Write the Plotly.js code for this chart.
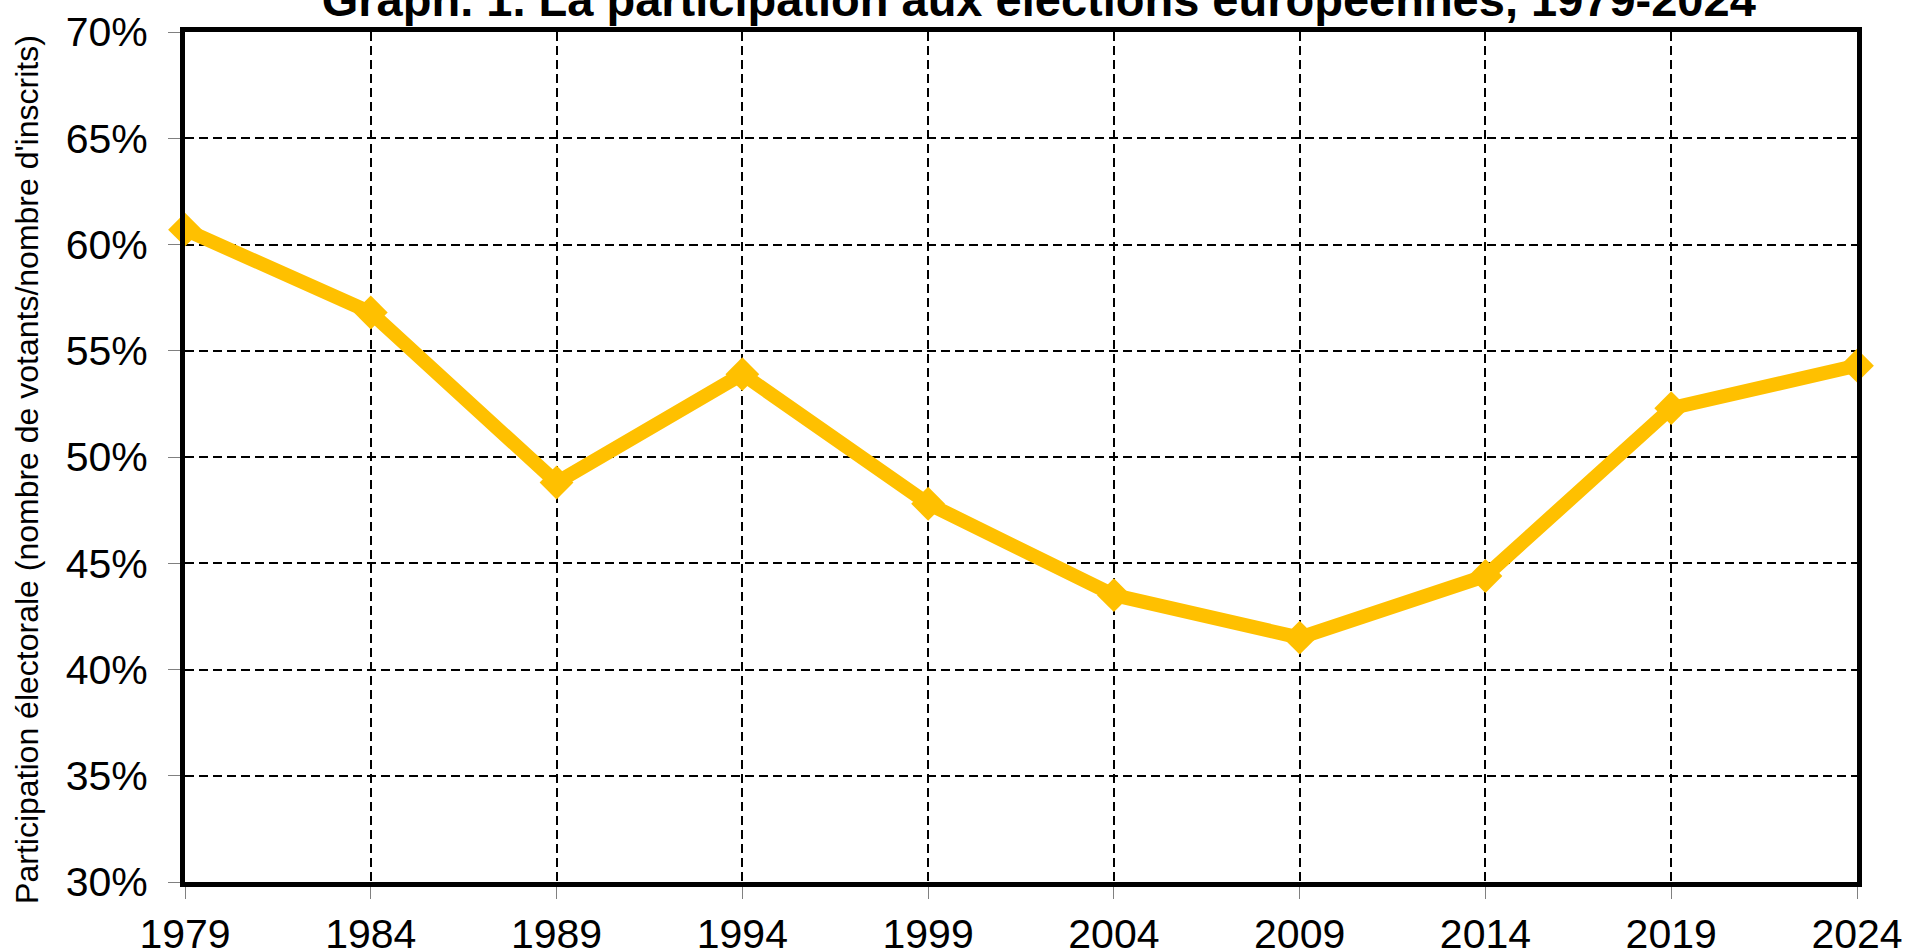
<!DOCTYPE html>
<html>
<head>
<meta charset="utf-8">
<script src="https://cdn.plot.ly/plotly-3.0.1.min.js"></script>
<style>html,body{margin:0;padding:0;background:#fff;}#chart{width:1906px;height:952px;}</style>
</head>
<body>
<div id="chart"></div>
<script>
const years = [1979, 1984, 1989, 1994, 1999, 2004, 2009, 2014, 2019, 2024];
const turnout = [60.7, 56.8, 48.8, 53.9, 47.8, 43.5, 41.5, 44.4, 52.3, 54.3];
const yTickVals = [30, 35, 40, 45, 50, 55, 60, 65, 70];
const yTickText = ['30%', '35%', '40%', '45%', '50%', '55%', '60%', '65%', '70%'];
const chartTitle = 'Graph. 1. La participation aux élections européennes, 1979-2024';
const yTitle = "Participation électorale (nombre de votants/nombre d'inscrits)";

const font = 'Arial, "Liberation Sans", sans-serif';

const trace = {
  x: years,
  y: turnout,
  type: 'scatter',
  mode: 'lines+markers',
  line: {color: '#FFC000', width: 14},
  marker: {symbol: 'diamond', size: 26, color: '#FFC000'},
  cliponaxis: false,
  hoverinfo: 'x+y'
};

const layout = {
  width: 1906,
  height: 952,
  margin: {l: 185, r: 49, t: 32, b: 70},
  paper_bgcolor: '#ffffff',
  plot_bgcolor: '#ffffff',
  showlegend: false,
  font: {family: font, color: '#000'},
  title: {
    text: '<b>' + chartTitle + '</b>',
    font: {family: font, size: 47, color: '#000'},
    x: 0.545, xanchor: 'center', xref: 'container',
    y: 0.983, yanchor: 'bottom', yref: 'container'
  },
  xaxis: {
    range: [1979, 2024],
    tickvals: years,
    ticktext: years.map(String),
    tickfont: {size: 41, family: font, color: '#000'},
    ticks: 'outside', ticklen: 12, tickwidth: 1, tickcolor: '#808080',
    showgrid: true, gridcolor: '#000', gridwidth: 2, griddash: '9px,5px',
    showline: true, linecolor: '#000', linewidth: 5, mirror: true,
    zeroline: false, fixedrange: true
  },
  yaxis: {
    range: [30, 70],
    tickvals: yTickVals,
    ticktext: yTickText,
    tickfont: {size: 41, family: font, color: '#000'},
    ticks: 'outside', ticklen: 12, tickwidth: 1, tickcolor: '#808080',
    ticklabelstandoff: 12,
    showgrid: true, gridcolor: '#000', gridwidth: 2, griddash: '9px,5px',
    showline: true, linecolor: '#000', linewidth: 5, mirror: true,
    zeroline: false, fixedrange: true
  },
  annotations: [{
    text: yTitle,
    textangle: -90,
    xref: 'paper', yref: 'paper',
    x: -0.0945, y: 0.486,
    xanchor: 'center', yanchor: 'middle',
    showarrow: false,
    font: {family: font, size: 32, color: '#000'}
  }]
};

Plotly.newPlot('chart', [trace], layout, {displayModeBar: false, staticPlot: true});
</script>
</body>
</html>
